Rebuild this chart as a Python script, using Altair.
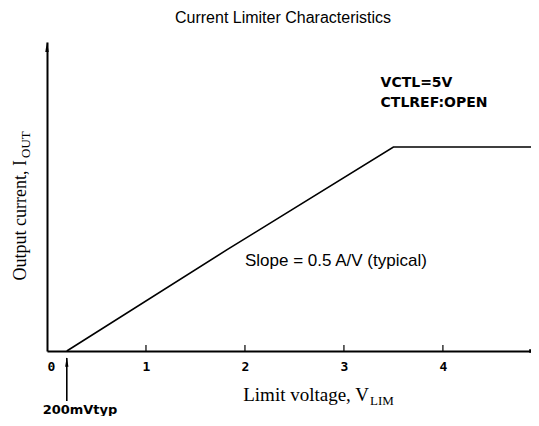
import altair as alt
import pandas as pd

# ---- data ----
voltage = [0.2, 1.82, 3.5, 4.89]          # V_LIM (V)
current = [0.0, 0.82, 1.65, 1.65]         # I_OUT (A, slope 0.5 A/V)
axis_labels = [0, 1, 2, 3, 4]
tick_volts = [1, 2, 3, 4]
cond_text = ["VCTL=5V", "CTLREF:OPEN"]
cond_v = [3.37, 3.37]
cond_i = [2.17, 2.01]
slope_text = ["Slope = 0.5 A/V (typical)"]
slope_v = [2.0]
slope_i = [0.73]
title_text = "Current Limiter Characteristics"
xtitle_main, xtitle_sub = "Limit voltage, V", "LIM"
ytitle_main, ytitle_sub = "Output current, I", "OUT"
offset_text = "200mVtyp"
offset_v = [0.2]

W, H = 484, 309
X_MAX, Y_MAX = 4.89, 2.5

xs = alt.Scale(domain=[0, X_MAX], nice=False, zero=False)
ys = alt.Scale(domain=[0, Y_MAX], nice=False)
ARROW = "M0,-1L0.35,1L-0.35,1Z"

curve = pd.DataFrame({"v": voltage, "i": current})

line = alt.Chart(curve).mark_line(color="black", strokeWidth=1.6).encode(
    x=alt.X("v:Q", scale=xs, axis=alt.Axis(
        values=axis_labels, format="d", ticks=False, tickSize=0, labelPadding=9,
        labelFont="DejaVu Sans Mono", labelFontWeight="bold", labelFontSize=13,
        labelColor="black", domainColor="black", domainWidth=2, grid=False, title=None)),
    y=alt.Y("i:Q", scale=ys, axis=alt.Axis(
        labels=False, ticks=False, grid=False, domainColor="black", domainWidth=2,
        title=None)),
)

ticks = alt.Chart(pd.DataFrame({"v": tick_volts})).mark_rule(color="black", strokeWidth=1.2).encode(
    x=alt.X("v:Q", scale=xs), y=alt.value(H), y2=alt.value(H - 6)
)

yarrow = alt.Chart(pd.DataFrame({"v": [0], "i": [Y_MAX - 0.04]})).mark_point(
    shape=ARROW, filled=True, color="black", size=100, opacity=1
).encode(x=alt.X("v:Q", scale=xs), y=alt.Y("i:Q", scale=ys))

xend = alt.Chart(pd.DataFrame({"v": [X_MAX], "i": [0]})).mark_point(
    shape="square", filled=True, color="black", size=14, opacity=1
).encode(x=alt.X("v:Q", scale=xs), y=alt.Y("i:Q", scale=ys))

off_df = pd.DataFrame({"v": offset_v})
off_rule = alt.Chart(off_df).mark_rule(color="black", strokeWidth=1.6).encode(
    x=alt.X("v:Q", scale=xs), y=alt.value(H + 7), y2=alt.value(H + 50)
)
off_head = alt.Chart(off_df).mark_point(
    shape=ARROW, filled=True, color="black", size=90, opacity=1
).encode(x=alt.X("v:Q", scale=xs), y=alt.value(H + 11))
off_text = alt.Chart(pd.DataFrame({"t": [offset_text]})).mark_text(
    font="DejaVu Sans", fontWeight="bold", fontSize=13, align="center",
    baseline="middle", color="black"
).encode(text="t:N", x=alt.value(33), y=alt.value(H + 59))

cond = alt.Chart(pd.DataFrame({"t": cond_text, "v": cond_v, "i": cond_i})).mark_text(
    font="DejaVu Sans", fontWeight="bold", fontSize=14, align="left",
    baseline="middle", color="black"
).encode(text="t:N", x=alt.X("v:Q", scale=xs), y=alt.Y("i:Q", scale=ys))

slope = alt.Chart(pd.DataFrame({"t": slope_text, "v": slope_v, "i": slope_i})).mark_text(
    font="Liberation Sans", fontSize=17, align="left", baseline="middle", color="black"
).encode(text="t:N", x=alt.X("v:Q", scale=xs), y=alt.Y("i:Q", scale=ys))

title = alt.Chart(pd.DataFrame({"t": [title_text]})).mark_text(
    font="Liberation Sans", fontSize=16, align="center", baseline="middle", color="black"
).encode(text="t:N", x=alt.value(236), y=alt.value(-24))

xt_main = alt.Chart(pd.DataFrame({"t": [xtitle_main]})).mark_text(
    font="Liberation Serif", fontSize=19, align="right", baseline="alphabetic", color="black"
).encode(text="t:N", x=alt.value(322), y=alt.value(H + 50))
xt_sub = alt.Chart(pd.DataFrame({"t": [xtitle_sub]})).mark_text(
    font="Liberation Serif", fontSize=13, align="left", baseline="alphabetic", color="black"
).encode(text="t:N", x=alt.value(323), y=alt.value(H + 54))

yt_main = alt.Chart(pd.DataFrame({"t": [ytitle_main]})).mark_text(
    font="Liberation Serif", fontSize=18, align="right", baseline="alphabetic",
    angle=270, color="black"
).encode(text="t:N", x=alt.value(-21), y=alt.value(118))
yt_sub = alt.Chart(pd.DataFrame({"t": [ytitle_sub]})).mark_text(
    font="Liberation Serif", fontSize=13, align="left", baseline="alphabetic",
    angle=270, color="black"
).encode(text="t:N", x=alt.value(-17), y=alt.value(116))

chart = alt.layer(
    line, ticks, yarrow, xend, off_rule, off_head, off_text, cond, slope,
    title, xt_main, xt_sub, yt_main, yt_sub
).properties(
    width=W, height=H, autosize="none",
    padding={"left": 39, "top": 34, "right": 0, "bottom": 65},
    background="white",
).configure_view(stroke=None)

chart.save("out.html", embed_options={"renderer": "svg", "actions": False})
